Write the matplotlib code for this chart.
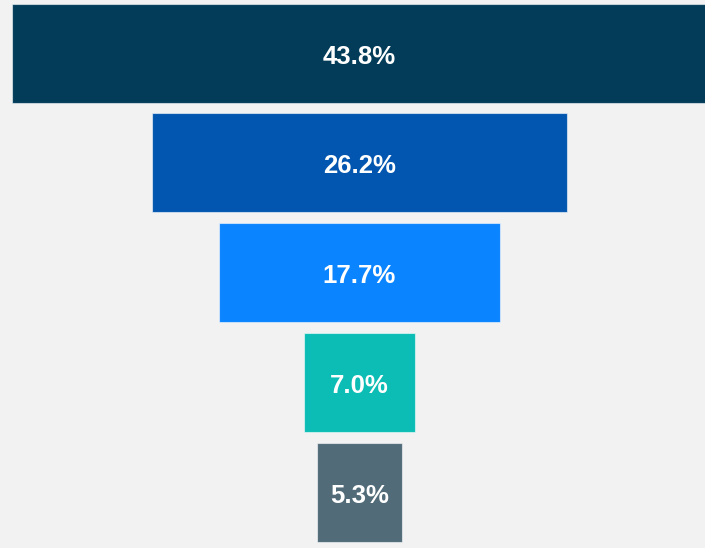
import matplotlib
matplotlib.use("Agg")
import matplotlib.pyplot as plt

# Funnel stages, top to bottom
values = [43.8, 26.2, 17.7, 7.0, 5.3]
labels = ["43.8%", "26.2%", "17.7%", "7.0%", "5.3%"]
colors = ["#023c59", "#0256b0", "#0a84ff", "#0bbdb4", "#516b79"]

bg = "#f2f2f2"
fig = plt.figure(figsize=(7.05, 5.48), dpi=100, facecolor=bg)
ax = fig.add_axes([0, 0, 1, 1], facecolor=bg)

ypos = list(range(len(values)))
lefts = [-v / 2 for v in values]
ax.barh(ypos, values, left=lefts, height=0.902, color=colors,
        edgecolor=(1, 1, 1, 0.55), linewidth=0.8)

# labels sit on a baseline just below each bar's centre
for y, lab in zip(ypos, labels):
    ax.annotate(lab, xy=(0, y), xytext=(0, -7.7), textcoords="offset points",
                ha="center", va="baseline", color="white",
                fontsize=18.5, fontweight="bold", family="Liberation Sans")

ax.set_xlim(-22.65, 21.77)
ax.set_ylim(4.51, -0.483)
ax.axis("off")

fig.savefig("out.png", dpi=100, facecolor=bg)
